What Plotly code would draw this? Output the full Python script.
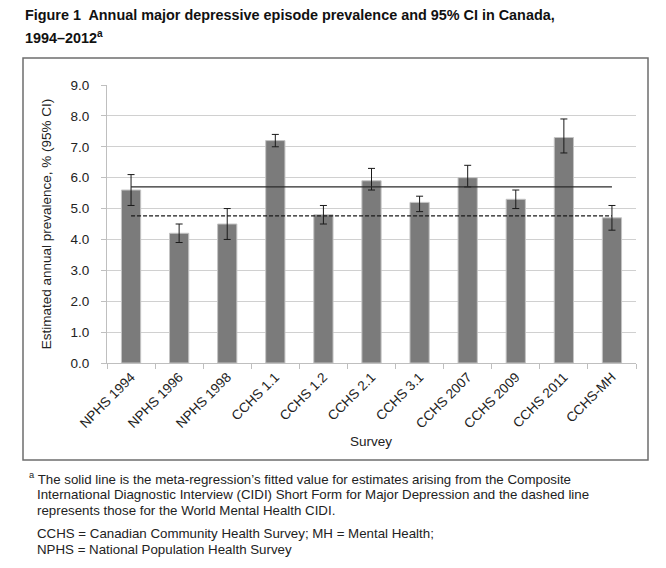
import plotly.graph_objects as go

categories = ["NPHS 1994", "NPHS 1996", "NPHS 1998", "CCHS 1.1", "CCHS 1.2", "CCHS 2.1",
              "CCHS 3.1", "CCHS 2007", "CCHS 2009", "CCHS 2011", "CCHS-MH"]
prevalence = [5.6, 4.2, 4.5, 7.2, 4.8, 5.9, 5.2, 6.0, 5.3, 7.3, 4.7]
ci_upper = [6.1, 4.5, 5.0, 7.4, 5.1, 6.3, 5.4, 6.4, 5.6, 7.9, 5.1]
ci_lower = [5.1, 3.9, 4.0, 7.0, 4.5, 5.6, 4.9, 5.7, 5.0, 6.8, 4.3]
fitted_cidi_sfmd = 5.70
fitted_wmh_cidi = 4.76
y_ticks = [0, 1, 2, 3, 4, 5, 6, 7, 8, 9]

err_plus = [u - p for u, p in zip(ci_upper, prevalence)]
err_minus = [p - l for l, p in zip(ci_lower, prevalence)]

FONT = "Liberation Sans, Arial, sans-serif"
OFF = 8  # page body margin

fig = go.Figure()
fig.add_trace(go.Bar(
    x=categories, y=prevalence, width=0.4,
    marker=dict(color="#7b7b7b", line=dict(color="#c4c4c4", width=1)),
    error_y=dict(type="data", symmetric=False, array=err_plus, arrayminus=err_minus,
                 color="#1a1a1a", thickness=1, width=3.5),
    showlegend=False, hoverinfo="skip"))
fig.add_trace(go.Scatter(
    x=[categories[0], categories[-1]], y=[fitted_cidi_sfmd] * 2, mode="lines",
    line=dict(color="#2a2a2a", width=1.3), showlegend=False))
fig.add_trace(go.Scatter(
    x=[categories[0], categories[-1]], y=[fitted_wmh_cidi] * 2, mode="lines",
    line=dict(color="#1a1a1a", width=1.3, dash="4px,2px"), showlegend=False))

W, H = 666 - 2 * OFF, 568 - 2 * OFF
# plot area in reference pixel coords
X0, X1, Y0, Y1 = 107, 636, 85, 363
L, R, T, B = X0 - OFF, W - (X1 - OFF), Y0 - OFF, H - (Y1 - OFF)
pw, ph = W - L - R, H - T - B

def px(x):
    return (x - X0) / pw

def py(y):
    return (Y1 - y) / ph

fig.update_layout(
    width=W, height=H, margin=dict(l=L, r=R, t=T, b=B),
    paper_bgcolor="white", plot_bgcolor="white",
    font=dict(family=FONT, size=13.5, color="#222222"),
    xaxis=dict(tickangle=-45, tickson="boundaries", ticks="outside", ticklen=5,
               tickcolor="#bfbfbf", showline=True, linecolor="#bfbfbf", linewidth=1,
               showgrid=False, tickfont=dict(size=13.5, color="#222222")),
    yaxis=dict(range=[0, 9], tickvals=y_ticks, tickformat=".1f", ticks="outside",
               ticklen=5, tickcolor="#bfbfbf", showline=True, linecolor="#bfbfbf",
               gridcolor="#d0d0d0", gridwidth=1, zeroline=False, ticklabelstandoff=9,
               tickfont=dict(size=13.5, color="#222222"),
               title=dict(text="Estimated annual prevalence, % (95% CI)",
                          font=dict(size=13.5, color="#222222"), standoff=15)),
    bargap=0.6,
)

fig.add_shape(type="rect", xref="paper", yref="paper",
              x0=px(23), x1=px(648), y0=py(460), y1=py(58),
              line=dict(color="#6e6e6e", width=1.5), layer="below")

fig.add_annotation(xref="paper", yref="paper", x=px(371), y=py(441), yanchor="middle",
                   text="Survey", showarrow=False, font=dict(size=13.5, color="#222222"))

fig.add_annotation(xref="paper", yref="paper", x=px(23), y=py(15), xanchor="left",
                   yanchor="middle", showarrow=False,
                   text="<b>Figure 1  Annual major depressive episode prevalence and 95% CI in Canada,</b>",
                   font=dict(size=14.4, color="#111111"))
fig.add_annotation(xref="paper", yref="paper", x=px(23), y=py(37), xanchor="left",
                   yanchor="middle", showarrow=False,
                   text="<b>1994–2012<sup>a</sup></b>",
                   font=dict(size=14.4, color="#111111"))

foot = [
    (478, 27, "<sup>a</sup> The solid line is the meta-regression’s fitted value for estimates arising from the Composite"),
    (494, 35, "International Diagnostic Interview (CIDI) Short Form for Major Depression and the dashed line"),
    (510, 35, "represents those for the World Mental Health CIDI."),
    (533, 35, "CCHS = Canadian Community Health Survey; MH = Mental Health;"),
    (549, 35, "NPHS = National Population Health Survey"),
]
for yy, xx, t in foot:
    fig.add_annotation(xref="paper", yref="paper", x=px(xx), y=py(yy), xanchor="left",
                       yanchor="middle", showarrow=False, text=t,
                       font=dict(size=13.3, color="#222222"))

fig.write_html("out.html")
